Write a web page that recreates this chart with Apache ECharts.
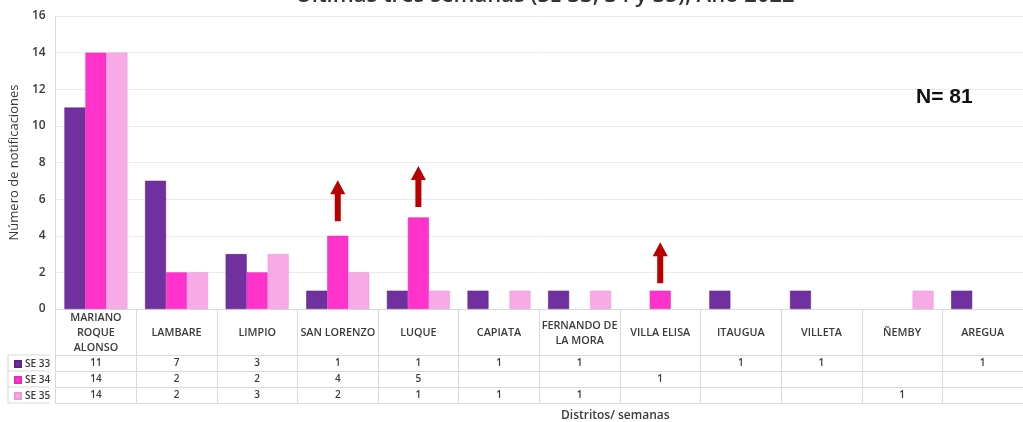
<!DOCTYPE html>
<html>
<head>
<meta charset="utf-8">
<script src="https://cdn.jsdelivr.net/npm/echarts@6/dist/echarts.min.js"></script>
<style>html,body{margin:0;padding:0;background:#fff}#c{width:1023px;height:422px}</style>
</head>
<body>
<div id="c"></div>
<script>
const categories = ['MARIANO\nROQUE\nALONSO','LAMBARE','LIMPIO','SAN LORENZO','LUQUE','CAPIATA','FERNANDO DE\nLA MORA','VILLA ELISA','ITAUGUA','VILLETA','ÑEMBY','AREGUA'];
const seriesNames = ['SE 33','SE 34','SE 35'];
const se33 = [11,7,3,1,1,1,1,null,1,1,null,1];
const se34 = [14,2,2,4,5,null,null,1,null,null,null,null];
const se35 = [14,2,3,2,1,1,1,null,null,null,1,null];
const yMin = 0, yMax = 16, yInterval = 2;
const arrowCategories = [3, 4, 7];
const titleText = 'Últimas tres semanas (SE 33, 34 y 35), Año 2022';
const totalText = 'N= 81';
const xTitle = 'Distritos/ semanas';
const yTitle = 'Número de notificaciones';

const colors = ['#7030A0', '#FF33CC', '#F7AAE6'];
const lineColor = '#d9d9d9';
const textColor = '#3a3a3a';
const font = 'Open Sans';

const rows = [se33, se34, se35];
const rowOffsets = [46, 62, 78];
const rowMargins = [8, 8, 8];
const arrowOffsets = [35, 31, 28];

function rowAxis(i) {
  const data = rows[i];
  return {
    type: 'category', data: categories, gridIndex: 0, position: 'bottom', offset: rowOffsets[i],
    axisLine: {show: true, lineStyle: {color: lineColor, width: 1}},
    axisTick: {show: false},
    axisLabel: {
      show: true, interval: 0, margin: rowMargins[i], verticalAlign: 'middle',
      fontFamily: font, fontSize: 10, fontWeight: 600, color: textColor,
      formatter: (v, idx) => (data[idx] == null ? '' : String(data[idx]))
    }
  };
}

const chart = echarts.init(document.getElementById('c'), null, {renderer: 'canvas'});
chart.setOption({
  animation: false,
  color: colors,
  title: [
    {text: titleText, left: 540, textAlign: 'center', top: -20,
     textStyle: {fontFamily: font, fontSize: 22, fontWeight: 600, color: '#333'}},
    {text: totalText, left: 911, top: 82,
     textStyle: {fontFamily: 'Liberation Sans', fontSize: 21, fontWeight: 'bold', color: '#111'}},
    {text: xTitle, left: 556, top: 405,
     textStyle: {fontFamily: font, fontSize: 12, fontWeight: 600, color: textColor}}
  ],
  legend: {
    data: seriesNames, orient: 'vertical', left: 9, top: 353,
    icon: 'rect', itemWidth: 6, itemHeight: 6, itemGap: 4,
    selectedMode: false,
    textStyle: {fontFamily: font, fontSize: 10, fontWeight: 600, color: textColor, lineHeight: 12, padding: [0,0,0,-1]}
  },
  grid: {left: 50, right: -18, top: 16, bottom: 113, containLabel: false},
  xAxis: [
    {
      type: 'category', data: categories, position: 'bottom',
      axisLine: {show: true, lineStyle: {color: lineColor}},
      axisTick: {show: true, length: 94, interval: 0, lineStyle: {color: lineColor}},
      axisLabel: {interval: 0, margin: 24, verticalAlign: 'middle', fontFamily: font, fontSize: 10.8,
                  fontWeight: 600, lineHeight: 15, color: textColor}
    },
    rowAxis(0), rowAxis(1), rowAxis(2),
    {
      type: 'category', data: categories, position: 'bottom', offset: 94,
      axisLine: {show: true, lineStyle: {color: lineColor}},
      axisTick: {show: false}, axisLabel: {show: false}
    }
  ],
  yAxis: {
    type: 'value', min: yMin, max: yMax, interval: yInterval,
    name: yTitle, nameLocation: 'middle', nameGap: 31, nameRotate: 90,
    nameTextStyle: {fontFamily: font, fontSize: 13, color: textColor},
    axisLine: {show: true, lineStyle: {color: lineColor}},
    axisTick: {show: false},
    axisLabel: {margin: 10, fontFamily: font, fontSize: 12, fontWeight: 600, color: textColor},
    splitLine: {lineStyle: {color: '#ebebeb'}}
  },
  graphic: [
    {type: 'polyline', shape: {points: [[50,355],[8,355],[8,403],[50,403]]}, style: {stroke: lineColor, fill: null, lineWidth: 1}, silent: true},
    {type: 'line', shape: {x1: 8, y1: 371, x2: 50, y2: 371}, style: {stroke: lineColor, lineWidth: 1}, silent: true},
    {type: 'line', shape: {x1: 8, y1: 387, x2: 50, y2: 387}, style: {stroke: lineColor, lineWidth: 1}, silent: true}
  ],
  series: [
    {name: seriesNames[0], type: 'bar', data: se33, barWidth: 21, barGap: '0%',
     itemStyle: {borderColor: '#5e2488', borderWidth: 0.6}},
    {name: seriesNames[1], type: 'bar', data: se34, barWidth: 21, barGap: '0%',
     itemStyle: {borderColor: '#e62cb8', borderWidth: 0.6},
     markPoint: {
       symbol: 'path://M7.5,0 L15,14 L10.5,14 L10.5,41 L4.5,41 L4.5,14 L0,14 Z',
       symbolSize: [15, 41], silent: true,
       itemStyle: {color: '#B80000'},
       label: {show: false},
       data: arrowCategories.map((c, i) => ({coord: [c, se34[c]], symbolOffset: [0, -arrowOffsets[i]]}))
     }},
    {name: seriesNames[2], type: 'bar', data: se35, barWidth: 21, barGap: '0%',
     itemStyle: {borderColor: '#eb9ad8', borderWidth: 0.6}}
  ]
});
</script>
</body>
</html>
